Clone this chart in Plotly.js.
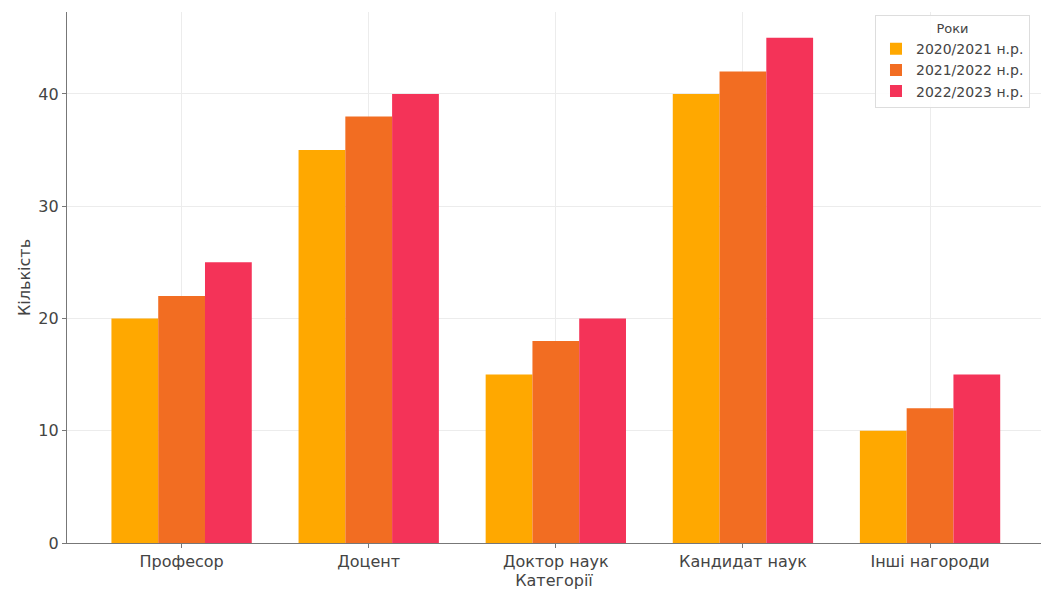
<!DOCTYPE html>
<html>
<head>
<meta charset="utf-8">
<script src="https://cdn.plot.ly/plotly-3.0.1.min.js"></script>
<style>html,body{margin:0;padding:0;background:#fff;}#chart{width:1041px;height:593px;}</style>
</head>
<body>
<div id="chart"></div>
<script>
const categories = ["Професор", "Доцент", "Доктор наук", "Кандидат наук", "Інші нагороди"];
const seriesNames = ["2020/2021 н.р.", "2021/2022 н.р.", "2022/2023 н.р."];
const values2020 = [20, 35, 15, 40, 10];
const values2021 = [22, 38, 18, 42, 12];
const values2022 = [25, 40, 20, 45, 15];
const colors = ["#FFA800", "#F26D22", "#F43358"];

const allValues = [values2020, values2021, values2022];
const traces = allValues.map((vals, i) => ({
  type: "bar",
  name: seriesNames[i],
  x: categories,
  y: vals,
  marker: {color: colors[i], line: {width: 0}},
  hoverinfo: "x+y+name"
}));

const fam = "DejaVu Sans, sans-serif";
const tickFont = {family: fam, size: 16, color: "#444"};
const layout = {
  width: 1041,
  height: 593,
  margin: {l: 67, r: 0, t: 12, b: 50},
  paper_bgcolor: "#fff",
  plot_bgcolor: "#fff",
  barmode: "group",
  bargap: 0.25,
  bargroupgap: 0,
  font: {family: fam, color: "#444"},
  xaxis: {
    type: "category",
    range: [-0.6125, 4.593],
    showgrid: true,
    gridcolor: "#ececec",
    showline: true,
    linecolor: "#777",
    linewidth: 1.2,
    ticks: "outside",
    ticklen: 4,
    tickcolor: "#777",
    tickfont: tickFont,
    title: {text: "Категорії", font: {family: fam, size: 16, color: "#444"}, standoff: 1},
    zeroline: false
  },
  yaxis: {
    range: [0, 47.3],
    tickvals: [0, 10, 20, 30, 40],
    showgrid: true,
    gridcolor: "#ececec",
    showline: true,
    linecolor: "#777",
    linewidth: 1.2,
    ticks: "outside",
    ticklen: 4,
    tickcolor: "#777",
    tickfont: tickFont,
    title: {text: "Кількість", font: {family: fam, size: 16, color: "#444"}, standoff: 3},
    zeroline: false
  },
  legend: {
    x: 0.9887,
    y: 0.994,
    xanchor: "right",
    yanchor: "top",
    bgcolor: "rgba(255,255,255,0.9)",
    bordercolor: "#ddd",
    borderwidth: 1,
    font: {family: fam, size: 14, color: "#444"},
    title: {text: "Роки", side: "top center", font: {family: fam, size: 13, color: "#444"}},
    itemsizing: "constant",
    itemwidth: 30,
    tracegroupgap: 0
  },
  showlegend: true
};

Plotly.newPlot("chart", traces, layout, {displayModeBar: false, staticPlot: true});
</script>
</body>
</html>
